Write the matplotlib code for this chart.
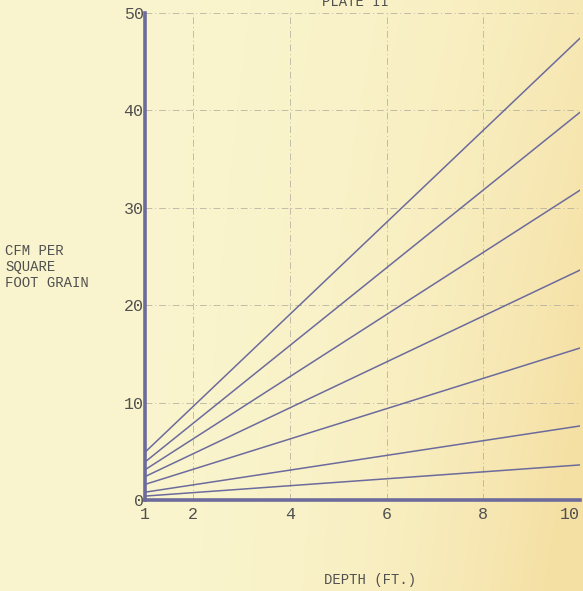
import numpy as np
import matplotlib.pyplot as plt

# depth (ft) at the two ends of each straight line
depth = [1, 10]
line_a = [4.9, 47.4]
line_b = [3.9, 39.8]
line_c = [3.1, 31.8]
line_d = [2.4, 23.6]
line_e = [1.6, 15.6]
line_f = [0.8, 7.6]
line_g = [0.4, 3.6]
series = [line_a, line_b, line_c, line_d, line_e, line_f, line_g]

x_ticks = [1, 2, 4, 6, 8, 10]
y_ticks = [0, 10, 20, 30, 40, 50]

ink = '#6c6b9c'
text_col = '#505050'
font = 'Liberation Mono'

fig = plt.figure(figsize=(5.83, 5.91), dpi=100)

# paper background
bg = fig.add_axes([0, 0, 1, 1], zorder=-10)
gx = np.linspace(0, 1, 256)
gy = np.linspace(0, 1, 128)[:, None]
w = np.clip(gx[None, :] ** 3 * (0.6 + 0.6 * gy), 0, 1)
left_col = np.array([250, 245, 206]) / 255
right_col = np.array([245, 224, 164]) / 255
paper = left_col + (right_col - left_col) * w[:, :, None]
bg.imshow(paper, aspect='auto', extent=[0, 1, 0, 1], origin='upper')
bg.axis('off')

ax = fig.add_axes([0.2487, 0.154, 0.746, 0.824])
ax.patch.set_alpha(0)

for s in series:
    ax.plot(depth, s, color=ink, lw=1.1)

ax.set_xlim(1, 10)
ax.set_ylim(0, 50)
ax.set_xticks(x_ticks)
ax.set_yticks(y_ticks)
ax.set_xticklabels([str(t) for t in x_ticks], fontfamily=font, fontsize=12, color=text_col)
ax.set_yticklabels([str(t) for t in y_ticks], fontfamily=font, fontsize=12, color=text_col)
ax.get_xticklabels()[-1].set_horizontalalignment('right')
ax.tick_params(axis='x', length=0, pad=5)
ax.tick_params(axis='y', length=0, pad=1)

ax.grid(True, color='#aaa59a', lw=0.7, ls=(0, (7, 3, 1, 3)), alpha=0.7)
for side in ['top', 'right']:
    ax.spines[side].set_visible(False)
for side in ['left', 'bottom']:
    ax.spines[side].set_color(ink)
    ax.spines[side].set_linewidth(2.6)

fig.text(5 / 583, 1 - 267 / 591, 'CFM PER\nSQUARE\nFOOT GRAIN', fontfamily=font,
         fontsize=10, color=text_col, va='center', ha='left', linespacing=1.15)
fig.text(370 / 583, 1 - 580 / 591, 'DEPTH (FT.)', fontfamily=font,
         fontsize=10, color=text_col, va='center', ha='center')
fig.text(355 / 583, 0.996, 'PLATE II', fontfamily=font,
         fontsize=10, color=text_col, va='center', ha='center')

fig.savefig('out.png', dpi=100)
